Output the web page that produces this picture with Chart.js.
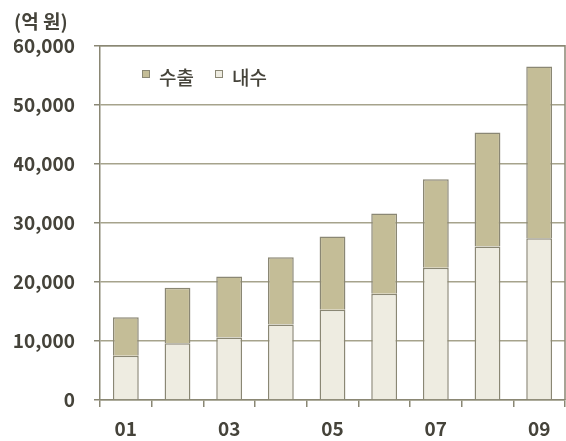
<!DOCTYPE html>
<html>
<head>
<meta charset="utf-8">
<script src="https://cdn.jsdelivr.net/npm/chart.js@4/dist/chart.umd.min.js"></script>
<style>
  html, body { margin: 0; padding: 0; background: #ffffff; }
  #wrap { position: relative; width: 566px; height: 441px; }
</style>
</head>
<body>
<div id="wrap"><canvas id="c" width="566" height="441"></canvas></div>
<script>
const categories = ['01', '02', '03', '04', '05', '06', '07', '08', '09'];
const domestic = [7500, 9600, 10600, 12800, 15300, 18000, 22400, 26000, 27400];
const exports_ = [6500, 9400, 10300, 11400, 12400, 13600, 15000, 19300, 29100];
const yTicks = [0, 10000, 20000, 30000, 40000, 50000, 60000];
const unitLabel = '(억 원)';
const seriesNames = ['수출', '내수'];

const FONT = '"Noto Sans CJK KR", "Noto Sans", sans-serif';
const TEXT = '#45433a';
const EDGE = '#8a8774';
const GRID = '#a6a38c';
const C_EXP = '#c4bd97';
const C_DOM = '#eeece1';

const legendInside = {
  id: 'legendInside',
  afterDraw(chart) {
    const ctx = chart.ctx;
    const items = [
      { text: seriesNames[0], color: C_EXP, x: 142 },
      { text: seriesNames[1], color: C_DOM, x: 215 }
    ];
    ctx.save();
    ctx.font = '500 19px ' + FONT;
    ctx.textBaseline = 'middle';
    items.forEach(it => {
      ctx.fillStyle = it.color;
      ctx.fillRect(it.x, 70, 7.5, 7.5);
      ctx.strokeStyle = EDGE;
      ctx.lineWidth = 1;
      ctx.strokeRect(it.x + 0.5, 70.5, 7, 7);
      ctx.fillStyle = TEXT;
      ctx.fillText(it.text, it.x + 17, 78);
    });
    ctx.restore();
  }
};

const frame = {
  id: 'frame',
  afterDatasetsDraw(chart) {
    const a = chart.chartArea;
    const ctx = chart.ctx;
    ctx.save();
    ctx.strokeStyle = EDGE;
    ctx.lineWidth = 1.5;
    ctx.beginPath();
    ctx.moveTo(a.left, a.top);
    ctx.lineTo(a.right, a.top);
    ctx.lineTo(a.right, a.bottom);
    ctx.stroke();
    ctx.restore();
  }
};

new Chart(document.getElementById('c'), {
  type: 'bar',
  data: {
    labels: categories,
    datasets: [
      { label: seriesNames[1], data: domestic, backgroundColor: C_DOM, borderColor: EDGE, borderWidth: 1.5, barPercentage: 0.5, categoryPercentage: 1.0, stack: 's' },
      { label: seriesNames[0], data: exports_, backgroundColor: C_EXP, borderColor: EDGE, borderWidth: 1.5, barPercentage: 0.5, categoryPercentage: 1.0, stack: 's' }
    ]
  },
  options: {
    responsive: false,
    animation: false,
    devicePixelRatio: 1,
    layout: { padding: { left: 14, right: 1, top: 0, bottom: 0 } },
    plugins: {
      legend: { display: false },
      tooltip: { enabled: false },
      title: {
        display: true,
        text: unitLabel,
        align: 'start',
        color: TEXT,
        font: { family: FONT, size: 19, weight: 'bold' },
        padding: { top: 10, bottom: 13 }
      }
    },
    scales: {
      x: {
        stacked: true,
        grid: { display: true, drawOnChartArea: false, drawTicks: true, tickLength: 7, offset: true, color: EDGE, lineWidth: 1.5 },
        border: { display: true, color: EDGE, width: 1.5 },
        ticks: {
          autoSkip: false,
          maxRotation: 0,
          padding: 10,
          color: TEXT,
          font: { family: FONT, size: 19, weight: 'bold' },
          callback: function(v, i) { return i % 2 === 0 ? categories[i] : ''; }
        },
        afterFit(scale) { scale.height = 41; }
      },
      y: {
        stacked: true,
        min: 0,
        max: 60000,
        afterBuildTicks(scale) { scale.ticks = yTicks.map(v => ({ value: v })); },
        grid: { color: GRID, lineWidth: 1.5, drawTicks: true, tickLength: 6, tickColor: EDGE },
        border: { display: true, color: EDGE, width: 1.5 },
        ticks: {
          padding: 19,
          color: TEXT,
          font: { family: FONT, size: 19, weight: 'bold' },
          callback: v => v.toLocaleString('en-US')
        },
        afterFit(scale) { scale.width = 86; }
      }
    }
  },
  plugins: [legendInside, frame]
});
</script>
</body>
</html>
